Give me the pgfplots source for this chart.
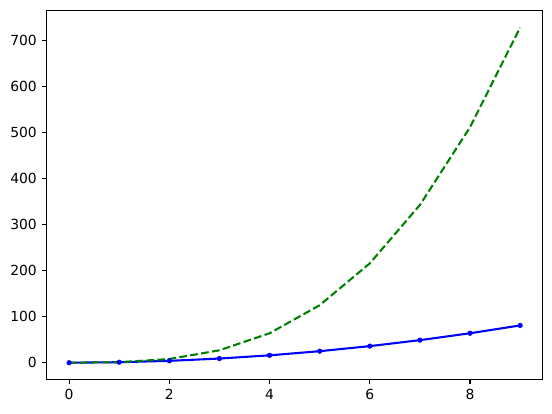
\documentclass[border=0pt]{standalone}
\usepackage{fontspec}
\setmainfont{DejaVu Sans}
\usepackage{pgfplots}
\pgfplotsset{compat=1.18}

\definecolor{mplblue}{rgb}{0,0,1}
\definecolor{mplgreen}{rgb}{0,0.5,0}

\begin{document}
\begin{tikzpicture}
\begin{axis}[
    scale only axis,
    width=357.1pt, height=265.4pt,
    xmin=-0.45, xmax=9.45,
    ymin=-36.45, ymax=765.45,
    xtick={0,2,4,6,8},
    ytick={0,100,200,300,400,500,600,700},
    tick align=outside,
    major tick length=3.5pt,
    every tick/.style={black, line width=0.8pt},
    axis line style={line width=0.8pt},
    tick label style={font=\fontsize{10pt}{12pt}\selectfont},
    /pgf/number format/assume math mode=true,
    xtick pos=bottom, ytick pos=left,
    minor tick num=0,
]
\addplot[color=mplblue, line width=1.5pt, mark=*, mark size=1.6pt,
    mark options={solid, fill=mplblue, draw=mplblue, line width=0.5pt}]
    coordinates {
    (0,0)(1,1)(2,4)(3,9)(4,16)(5,25)(6,36)(7,49)(8,64)(9,81)
    };
\addplot[color=mplgreen, line width=1.5pt, dash pattern=on 5.55pt off 2.4pt]
    coordinates {
    (0,0)(1,1)(2,8)(3,27)(4,64)(5,125)(6,216)(7,343)(8,512)(9,729)
    };
\end{axis}
\pgfresetboundingbox
\path (current axis.south west) ++(-33.5pt,-24.3pt) coordinate (bl);
\path (current axis.north east) ++(6.7pt,7.7pt) coordinate (tr);
\path (bl) rectangle (tr);
\end{tikzpicture}
\end{document}
